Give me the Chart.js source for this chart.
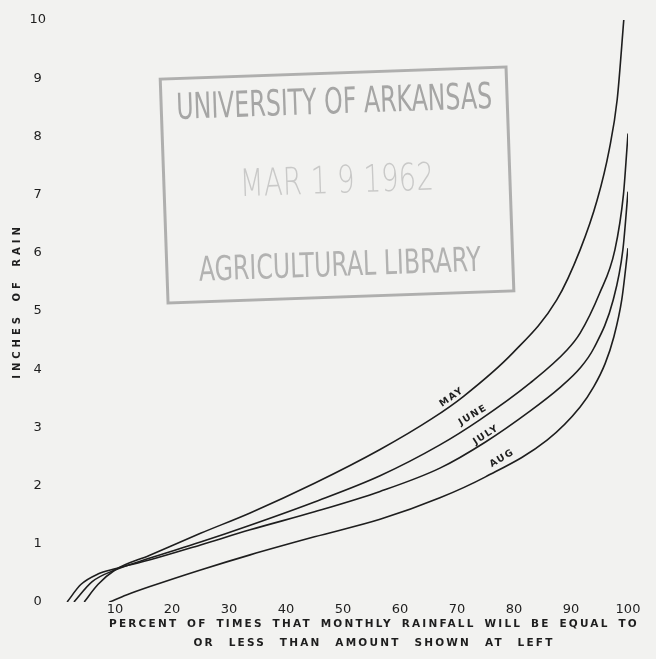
<!DOCTYPE html>
<html lang="en">
<head>
<meta charset="UTF-8">
<title>Monthly Rainfall Probability</title>
<script src="https://cdn.jsdelivr.net/npm/chart.js"></script>
<style>
  html, body { margin: 0; padding: 0; background: #f2f2f0; }
  #wrap { width: 656px; height: 659px; }
</style>
</head>
<body>
<div id="wrap"><canvas id="rainChart" width="656" height="659"></canvas></div>
<script>
// percent of times (x) vs inches of rain (y)
const months = ['MAY', 'JUNE', 'JULY', 'AUG'];

const mayPct  = [4.6, 7, 10, 16, 25, 33.7, 45, 56.5, 65.6, 71.1, 79.8, 87.5, 91.6, 94.6, 96.7, 98.1, 99.3];
const mayIn   = [0, 0.3, 0.55, 0.8, 1.18, 1.53, 2.04, 2.62, 3.15, 3.53, 4.28, 5.19, 6.05, 6.91, 7.77, 8.63, 10.05];

const junePct = [2.8, 6, 10, 16, 25, 33.7, 45, 56.5, 67, 74, 82.8, 89.3, 91.6, 95, 97.7, 99.2, 99.8, 100];
const juneIn  = [0, 0.35, 0.55, 0.75, 1.03, 1.32, 1.72, 2.17, 2.7, 3.13, 3.76, 4.33, 4.62, 5.3, 6.05, 7.0, 7.77, 8.05];

const julyPct = [1.6, 4, 7, 10, 16, 25, 33.7, 45, 56.5, 67, 75, 82.8, 88, 91.6, 94, 97.4, 99.1, 100];
const julyIn  = [0, 0.3, 0.48, 0.57, 0.72, 0.98, 1.24, 1.55, 1.9, 2.3, 2.75, 3.28, 3.68, 4.02, 4.36, 5.19, 6.05, 7.05];

const augPct  = [9, 12, 16, 25, 33.7, 45, 56.5, 67, 75, 85.8, 91.6, 94, 96, 97.5, 98.9, 100];
const augIn   = [0, 0.12, 0.26, 0.55, 0.81, 1.12, 1.42, 1.79, 2.15, 2.78, 3.35, 3.7, 4.1, 4.55, 5.19, 6.08];

const xTickValues = [10, 20, 30, 40, 50, 60, 70, 80, 90, 100];
const yTickValues = [0, 1, 2, 3, 4, 5, 6, 7, 8, 9, 10];

const pts = (xs, ys) => xs.map((x, i) => ({ x: x, y: ys[i] }));
const series = [pts(mayPct, mayIn), pts(junePct, juneIn), pts(julyPct, julyIn), pts(augPct, augIn)];

const ink = '#1e1e1e';

// where the month names sit along each curve (data coords) and their tilt
const monthLabels = [
  { text: 'MAY',  x: 69.1, y: 3.52, angle: -35 },
  { text: 'JUNE', x: 72.8, y: 3.21, angle: -31 },
  { text: 'JULY', x: 75.1, y: 2.87, angle: -33 },
  { text: 'AUG',  x: 77.9, y: 2.47, angle: -31 }
];

const textPlugin = {
  id: 'paperText',
  beforeDatasetsDraw(chart) {
    // library stamp
    const ctx = chart.ctx;
    ctx.save();
    ctx.translate(337, 184);
    ctx.rotate(-2 * Math.PI / 180);
    ctx.strokeStyle = 'rgba(120,120,120,0.55)';
    ctx.lineWidth = 3;
    ctx.strokeRect(-173, -111, 346, 224);
    ctx.textAlign = 'center';
    ctx.textBaseline = 'middle';
    ctx.fillStyle = 'rgba(115,115,115,0.6)';
    ctx.font = '36px "Liberation Sans Narrow", "DejaVu Sans Condensed", sans-serif';
    ctx.fillText('UNIVERSITY OF ARKANSAS', 0, -80, 316);
    ctx.fillStyle = 'rgba(150,150,150,0.45)';
    ctx.font = '200 38px "DejaVu Sans", sans-serif';
    ctx.fillText('MAR 1 9 1962', 0, -1, 194);
    ctx.fillStyle = 'rgba(125,125,125,0.55)';
    ctx.font = '34px "Liberation Sans Narrow", "DejaVu Sans Condensed", sans-serif';
    ctx.fillText('AGRICULTURAL LIBRARY', 0, 83, 282);
    ctx.restore();
  },
  afterDatasetsDraw(chart) {
    const ctx = chart.ctx;
    const sx = chart.scales.x, sy = chart.scales.y;
    ctx.save();
    ctx.fillStyle = ink;
    ctx.textAlign = 'center';
    ctx.textBaseline = 'middle';
    ctx.letterSpacing = '1.5px';
    ctx.font = 'bold 9.5px "DejaVu Sans", sans-serif';
    monthLabels.forEach(l => {
      ctx.save();
      ctx.translate(sx.getPixelForValue(l.x), sy.getPixelForValue(l.y));
      ctx.rotate(l.angle * Math.PI / 180);
      ctx.fillText(l.text, 0, 0);
      ctx.restore();
    });

    // axis captions
    ctx.font = 'bold 10.5px "DejaVu Sans", sans-serif';
    ctx.letterSpacing = '2.2px';
    ctx.wordSpacing = '3px';
    ctx.fillText('PERCENT OF TIMES THAT MONTHLY RAINFALL WILL BE EQUAL TO', 374, 624);
    ctx.wordSpacing = '8px';
    ctx.fillText('OR LESS THAN AMOUNT SHOWN AT LEFT', 374, 643);

    ctx.save();
    ctx.translate(17, 301);
    ctx.rotate(-Math.PI / 2);
    ctx.font = 'bold 10px "DejaVu Sans", sans-serif';
    ctx.letterSpacing = '4px';
    ctx.wordSpacing = '4px';
    ctx.fillText('INCHES OF RAIN', 0, 0);
    ctx.restore();
    ctx.restore();
  }
};

new Chart(document.getElementById('rainChart'), {
  type: 'line',
  data: {
    datasets: months.map((m, i) => ({
      label: m,
      data: series[i],
      borderColor: ink,
      borderWidth: 1.6,
      pointRadius: 0,
      fill: false,
      cubicInterpolationMode: 'monotone'
    }))
  },
  options: {
    responsive: false,
    animation: false,
    layout: { padding: { top: 20, right: 28, left: 0, bottom: 0 } },
    plugins: { legend: { display: false }, tooltip: { enabled: false } },
    scales: {
      x: {
        type: 'linear',
        min: 0,
        max: 100,
        grid: { display: false, drawTicks: false },
        border: { display: false },
        afterFit: s => { s.height = 57; },
        afterBuildTicks: s => { s.ticks = xTickValues.map(v => ({ value: v })); },
        ticks: {
          color: ink,
          padding: 0,
          maxRotation: 0,
          autoSkip: false,
          font: { family: '"DejaVu Sans", sans-serif', size: 13 }
        }
      },
      y: {
        min: 0,
        max: 10,
        grid: { display: false, drawTicks: false },
        border: { display: false },
        afterFit: s => { s.width = 58; },
        afterBuildTicks: s => { s.ticks = yTickValues.map(v => ({ value: v })); },
        ticks: {
          color: ink,
          padding: 12,
          crossAlign: 'center',
          font: { family: '"DejaVu Sans", sans-serif', size: 13 }
        }
      }
    }
  },
  plugins: [textPlugin]
});
</script>
</body>
</html>
